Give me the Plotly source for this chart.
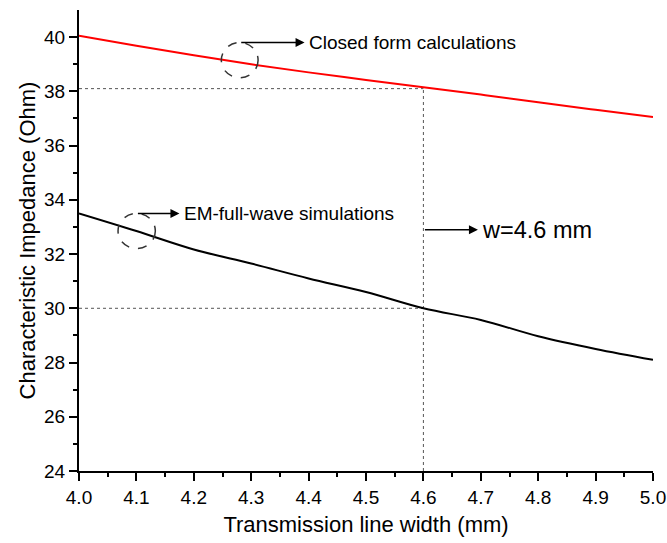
import plotly.graph_objects as go

width_mm = [4.0, 4.1, 4.2, 4.3, 4.4, 4.5, 4.6, 4.7, 4.8, 4.9, 5.0]
closed_form = [40.05, 39.68, 39.33, 39.0, 38.7, 38.42, 38.15, 37.88, 37.6, 37.32, 37.05]
em_full_wave = [33.5, 32.85, 32.17, 31.65, 31.1, 30.6, 30.0, 29.57, 28.97, 28.5, 28.1]

x_ticks = [4.0, 4.1, 4.2, 4.3, 4.4, 4.5, 4.6, 4.7, 4.8, 4.9, 5.0]
y_ticks = [24, 26, 28, 30, 32, 34, 36, 38, 40]

w_sel = 4.6
z_cf_sel = 38.1
z_em_sel = 30.0

FONT = "Liberation Sans, Arial, sans-serif"

fig = go.Figure()
fig.add_trace(go.Scatter(x=width_mm, y=closed_form, mode="lines", line_shape="spline",
                         line=dict(color="#ff0000", width=2), showlegend=False))
fig.add_trace(go.Scatter(x=width_mm, y=em_full_wave, mode="lines", line_shape="spline",
                         line=dict(color="black", width=2), showlegend=False))

dot = dict(color="#555555", width=1, dash="dot")
shapes = [
    dict(type="line", xref="x", yref="y", x0=4.0, x1=w_sel, y0=z_cf_sel, y1=z_cf_sel, line=dot, layer="below"),
    dict(type="line", xref="x", yref="y", x0=4.0, x1=w_sel, y0=z_em_sel, y1=z_em_sel, line=dot, layer="below"),
    dict(type="line", xref="x", yref="y", x0=w_sel, x1=w_sel, y0=24, y1=z_cf_sel, line=dot, layer="below"),
    dict(type="circle", xref="x", yref="y", x0=4.248, x1=4.312, y0=38.5, y1=39.8,
         line=dict(color="#333333", width=1.5, dash="dash")),
    dict(type="circle", xref="x", yref="y", x0=4.068, x1=4.133, y0=32.2, y1=33.5,
         line=dict(color="#333333", width=1.5, dash="dash")),
]

annotations = []
def arrow(x0, x1, y, text, size):
    annotations.append(dict(x=x1, y=y, ax=x0, ay=y, xref="x", yref="y", axref="x", ayref="y",
                            showarrow=True, arrowhead=2, arrowsize=1.2, arrowwidth=1.5,
                            arrowcolor="black", text=""))
    annotations.append(dict(x=x1 + 0.004, y=y, xref="x", yref="y", showarrow=False,
                            text=text, xanchor="left", yanchor="middle",
                            font=dict(family=FONT, size=size, color="black")))

arrow(4.28, 4.393, 39.8, "Closed form calculations", 19)
arrow(4.1, 4.175, 33.5, "EM-full-wave simulations", 19)
arrow(4.6, 4.695, 32.9, "w=4.6 mm", 23.5)

fig.update_layout(
    width=667, height=543,
    margin=dict(l=79, r=14, t=10, b=72),
    paper_bgcolor="white", plot_bgcolor="white",
    shapes=shapes, annotations=annotations,
    font=dict(family=FONT, size=19, color="black"),
    xaxis=dict(range=[4.0, 5.0], tickvals=x_ticks, ticktext=[f"{v:.1f}" for v in x_ticks],
               automargin=False,
               ticks="outside", ticklen=8, tickwidth=1.5, tickcolor="black",
               showline=True, linecolor="black", linewidth=2, showgrid=False, zeroline=False,
               minor=dict(dtick=0.05, tick0=4.0, ticks="outside", ticklen=4, tickwidth=1.5, tickcolor="black"),
               tickfont=dict(size=19),
               title=dict(text="Transmission line width (mm)", font=dict(size=22), standoff=10)),
    yaxis=dict(range=[24, 41], tickvals=y_ticks, automargin=False,
               ticks="outside", ticklen=8, tickwidth=1.5, tickcolor="black",
               showline=True, linecolor="black", linewidth=2, showgrid=False, zeroline=False,
               minor=dict(tickvals=[25, 27, 29, 31, 33, 35, 37, 39], ticks="outside", ticklen=4, tickwidth=1.5, tickcolor="black"),
               tickfont=dict(size=19),
               title=dict(text="Characteristic Impedance (Ohm)", font=dict(size=22), standoff=2)),
)

fig.write_html("out.html")
